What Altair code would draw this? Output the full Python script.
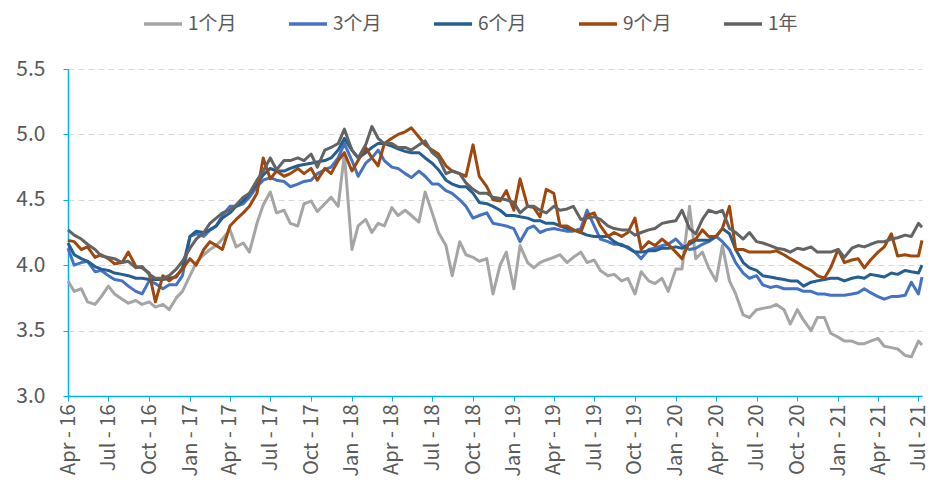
import altair as alt
import pandas as pd

# semi-monthly observation dates (1st and 15th of each month) + last obs
dates = [d.strftime("%Y-%m-%dT00:00:00") for d in pd.date_range("2016-04-01", "2021-07-01", freq="SMS")]
dates.append("2021-07-09T00:00:00")

series_names = ["1个月", "3个月", "6个月", "9个月", "1年"]
series_colors = ["#A5A5A5", "#4472C4", "#255E91", "#9E480E", "#636363"]

s_1m = [
    3.88, 3.80, 3.82, 3.72, 3.70, 3.76, 3.84, 3.78, 3.74, 3.71, 3.73, 3.70, 3.72, 3.68, 3.70, 3.66, 3.75, 3.80,
    3.92, 4.02, 4.08, 4.12, 4.15, 4.20, 4.27, 4.14, 4.17, 4.10, 4.32, 4.46, 4.56, 4.40, 4.42, 4.32, 4.30, 4.47, 4.49, 4.41, 4.47, 4.52, 4.45, 4.85,
    4.12, 4.30, 4.35, 4.25, 4.32, 4.30, 4.44, 4.38, 4.42, 4.38, 4.33, 4.56, 4.40, 4.25, 4.15, 3.92, 4.18, 4.08, 4.06, 4.03, 4.05, 3.78, 4.00, 4.10,
    3.82, 4.15, 4.02, 3.98, 4.02, 4.04, 4.06, 4.08, 4.02, 4.06, 4.10, 4.02, 4.04, 3.96, 3.92, 3.93, 3.88, 3.90, 3.78, 3.95, 3.88, 3.86, 3.90, 3.80,
    3.97, 3.97, 4.45, 4.05, 4.10, 3.98, 3.88, 4.15, 3.88, 3.78, 3.62, 3.60, 3.66, 3.67, 3.68, 3.70, 3.66, 3.55, 3.66, 3.58, 3.50, 3.60, 3.60, 3.48,
    3.45, 3.42, 3.42, 3.40, 3.40, 3.42, 3.44, 3.38, 3.37, 3.36, 3.31, 3.30, 3.42, 3.39,
]
s_3m = [
    4.13, 4.00, 4.02, 4.03, 3.95, 3.96, 3.92, 3.89, 3.88, 3.84, 3.80, 3.78, 3.88, 3.86, 3.82, 3.85, 3.85, 3.92,
    4.22, 4.24, 4.22, 4.27, 4.30, 4.38, 4.45, 4.45, 4.47, 4.52, 4.60, 4.65, 4.67, 4.65, 4.64, 4.60, 4.62, 4.64, 4.65, 4.70, 4.73, 4.75, 4.82, 4.93,
    4.80, 4.68, 4.78, 4.82, 4.88, 4.80, 4.75, 4.74, 4.70, 4.67, 4.72, 4.68, 4.62, 4.62, 4.57, 4.55, 4.50, 4.45, 4.36, 4.38, 4.40, 4.32, 4.31, 4.30,
    4.28, 4.18, 4.28, 4.30, 4.25, 4.27, 4.28, 4.27, 4.26, 4.26, 4.28, 4.42, 4.30, 4.20, 4.18, 4.16, 4.16, 4.13, 4.10, 4.05, 4.12, 4.13, 4.15, 4.16,
    4.20, 4.15, 4.12, 4.13, 4.16, 4.18, 4.22, 4.18, 4.12, 4.02, 3.94, 3.90, 3.92, 3.85, 3.83, 3.84, 3.82, 3.82, 3.82, 3.80, 3.80, 3.78, 3.78, 3.77,
    3.77, 3.77, 3.78, 3.79, 3.82, 3.79, 3.76, 3.74, 3.76, 3.76, 3.77, 3.87, 3.78, 3.91,
]
s_6m = [
    4.17, 4.08, 4.05, 4.03, 3.99, 3.97, 3.96, 3.94, 3.93, 3.92, 3.90, 3.90, 3.89, 3.89, 3.89, 3.90, 3.91, 3.98,
    4.22, 4.26, 4.25, 4.27, 4.30, 4.36, 4.40, 4.45, 4.49, 4.55, 4.62, 4.69, 4.74, 4.72, 4.72, 4.74, 4.76, 4.77, 4.78, 4.79, 4.80, 4.82, 4.88, 4.97,
    4.88, 4.82, 4.86, 4.90, 4.93, 4.93, 4.91, 4.89, 4.87, 4.86, 4.86, 4.82, 4.78, 4.73, 4.65, 4.62, 4.60, 4.60, 4.55, 4.48, 4.47, 4.45, 4.42, 4.38,
    4.38, 4.37, 4.36, 4.34, 4.34, 4.32, 4.32, 4.30, 4.28, 4.27, 4.25, 4.23, 4.22, 4.22, 4.22, 4.18, 4.15, 4.14, 4.10, 4.10, 4.11, 4.11, 4.13, 4.13,
    4.14, 4.13, 4.16, 4.19, 4.19, 4.19, 4.22, 4.28, 4.24, 4.12, 4.02, 3.98, 3.96, 3.92, 3.91, 3.90, 3.89, 3.88, 3.88, 3.84, 3.87, 3.88, 3.89, 3.90,
    3.90, 3.88, 3.90, 3.91, 3.90, 3.93, 3.92, 3.91, 3.94, 3.93, 3.96, 3.95, 3.94, 4.00,
]
s_9m = [
    4.19, 4.18, 4.12, 4.14, 4.06, 4.08, 4.05, 4.01, 4.02, 4.10, 3.99, 3.98, 3.94, 3.72, 3.92, 3.88, 3.92, 3.97,
    4.05, 4.00, 4.12, 4.18, 4.15, 4.12, 4.30, 4.35, 4.40, 4.45, 4.55, 4.82, 4.66, 4.72, 4.68, 4.70, 4.74, 4.70, 4.74, 4.65, 4.74, 4.70, 4.80, 4.86,
    4.72, 4.80, 4.90, 4.82, 4.76, 4.93, 4.97, 5.00, 5.02, 5.05, 4.98, 4.92, 4.88, 4.85, 4.76, 4.72, 4.70, 4.68, 4.92, 4.68, 4.60, 4.50, 4.49, 4.57,
    4.42, 4.66, 4.45, 4.44, 4.37, 4.58, 4.55, 4.30, 4.30, 4.27, 4.25, 4.38, 4.40, 4.30, 4.22, 4.25, 4.22, 4.25, 4.36, 4.12, 4.18, 4.15, 4.20, 4.16,
    4.10, 4.05, 4.18, 4.20, 4.27, 4.22, 4.22, 4.28, 4.45, 4.12, 4.12, 4.10, 4.10, 4.10, 4.10, 4.11, 4.08, 4.05, 4.02, 3.99, 3.96, 3.92, 3.90, 3.98,
    4.12, 4.02, 4.04, 4.05, 3.98, 4.04, 4.10, 4.14, 4.24, 4.07, 4.08, 4.07, 4.07, 4.19,
]
s_1y = [
    4.27, 4.23, 4.20, 4.16, 4.12, 4.07, 4.06, 4.05, 4.02, 4.03, 3.98, 3.99, 3.93, 3.90, 3.90, 3.92, 3.97, 4.03,
    4.13, 4.20, 4.25, 4.32, 4.36, 4.40, 4.42, 4.46, 4.52, 4.55, 4.65, 4.72, 4.82, 4.73, 4.80, 4.80, 4.82, 4.80, 4.85, 4.75, 4.88, 4.90, 4.93, 5.04,
    4.88, 4.82, 4.92, 5.06, 4.97, 4.93, 4.93, 4.90, 4.90, 4.88, 4.92, 4.95, 4.86, 4.82, 4.70, 4.72, 4.70, 4.63, 4.58, 4.55, 4.55, 4.52, 4.51, 4.50,
    4.48, 4.40, 4.45, 4.45, 4.42, 4.40, 4.45, 4.42, 4.43, 4.45, 4.35, 4.36, 4.37, 4.35, 4.30, 4.28, 4.27, 4.27, 4.23, 4.25, 4.27, 4.28, 4.32, 4.33,
    4.34, 4.42, 4.28, 4.24, 4.35, 4.42, 4.40, 4.42, 4.28, 4.25, 4.20, 4.25, 4.18, 4.17, 4.15, 4.13, 4.12, 4.10, 4.13, 4.12, 4.14, 4.10, 4.10, 4.10,
    4.12, 4.06, 4.13, 4.15, 4.14, 4.16, 4.18, 4.18, 4.20, 4.21, 4.23, 4.22, 4.32, 4.29,
]

y_ticks = [3.0, 3.5, 4.0, 4.5, 5.0, 5.5]
x_tick_dates = [
    (2016, 4), (2016, 7), (2016, 10), (2017, 1), (2017, 4), (2017, 7), (2017, 10),
    (2018, 1), (2018, 4), (2018, 7), (2018, 10), (2019, 1), (2019, 4), (2019, 7), (2019, 10),
    (2020, 1), (2020, 4), (2020, 7), (2020, 10), (2021, 1), (2021, 4), (2021, 7),
]

rows = []
for name, vals in zip(series_names, [s_1m, s_3m, s_6m, s_9m, s_1y]):
    for d, v in zip(dates, vals):
        rows.append({"date": d, "series": name, "value": v})
df = pd.DataFrame(rows)

FONT = "Noto Sans CJK SC"
AXIS_COLOR = "#00B0F0"
TEXT_COLOR = "#595959"

x_enc = alt.X(
    "date:T",
    scale=alt.Scale(domain=[alt.DateTime(year=2016, month=4, date=1),
                            alt.DateTime(year=2021, month=7, date=9)]),
    axis=alt.Axis(
        values=[alt.DateTime(year=y, month=m, date=1) for y, m in x_tick_dates],
        format="%b - %y", labelAngle=-90, title=None, grid=False,
        domainColor=AXIS_COLOR, domainWidth=1.5, tickColor=AXIS_COLOR, tickSize=5,
        labelColor=TEXT_COLOR, labelFont=FONT, labelFontSize=20, labelPadding=3,
        labelOverlap=False, labelFlush=False,
    ),
)
y_enc = alt.Y(
    "value:Q",
    scale=alt.Scale(domain=[3.0, 5.5], nice=False, zero=False),
    axis=alt.Axis(
        values=y_ticks, format=".1f", title=None,
        grid=True, gridColor="#D9D9D9", gridDash=[6, 4], gridWidth=1,
        domainColor=AXIS_COLOR, domainWidth=1.5, tickColor=AXIS_COLOR, tickSize=5,
        labelColor=TEXT_COLOR, labelFont=FONT, labelFontSize=21, labelPadding=18,
    ),
)
color_enc = alt.Color(
    "series:N",
    sort=series_names,
    scale=alt.Scale(domain=series_names, range=series_colors),
    legend=alt.Legend(
        title=None, orient="none", direction="horizontal",
        legendX=74, legendY=-66,
        symbolType="stroke", symbolStrokeWidth=3.5, symbolSize=1450,
        labelFont=FONT, labelFontSize=19, labelColor=TEXT_COLOR,
        labelOffset=4, columnPadding=44,
    ),
)

base = alt.Chart(df)
layers = [
    base.transform_filter(alt.datum.series == n)
    .mark_line(strokeWidth=3, strokeJoin="round")
    .encode(x=x_enc, y=y_enc, color=color_enc)
    for n in series_names
]

chart = (
    alt.layer(*layers)
    .properties(
        width=854, height=327,
        autosize=alt.AutoSizeParams(type="none"),
        padding={"left": 60, "top": 61, "right": 9, "bottom": 82},
        background="white",
    )
    .configure_view(stroke=None)
)

chart.save("out.html", embed_options={"renderer": "svg", "actions": False})
